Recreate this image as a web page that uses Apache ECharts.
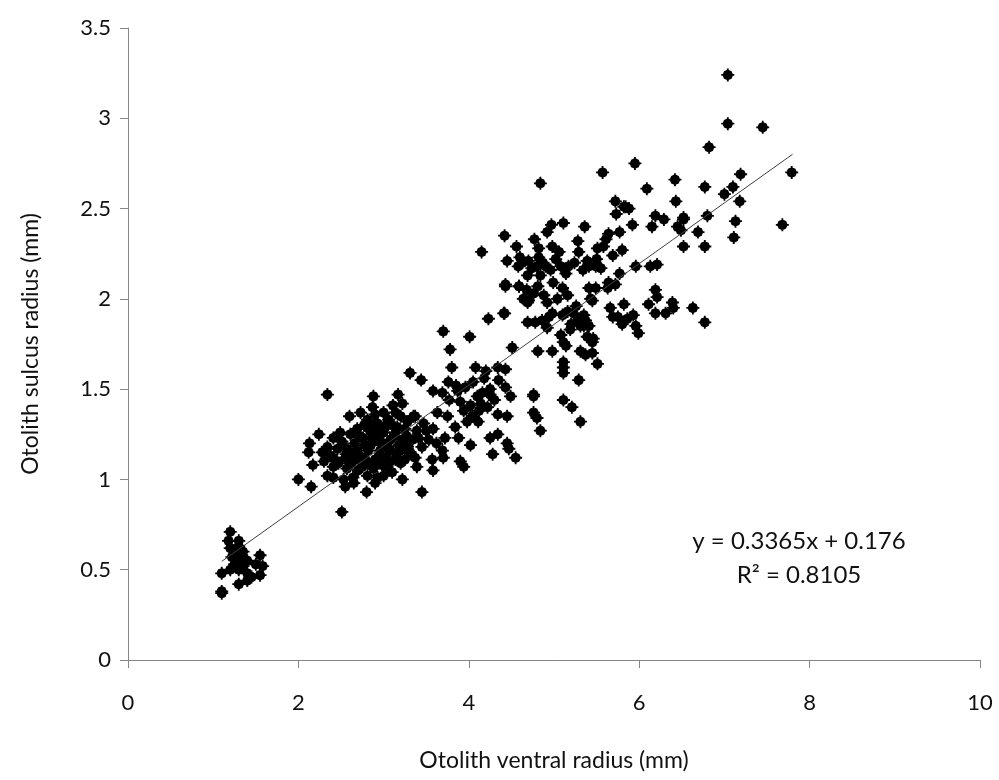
<!DOCTYPE html>
<html>
<head>
<meta charset="utf-8">
<script src="https://cdn.jsdelivr.net/npm/echarts@6/dist/echarts.min.js"></script>
<style>
html,body{margin:0;padding:0;background:#fff;}
#chart{width:999px;height:780px;}
</style>
</head>
<body>
<div id="chart"></div>
<script>
// ---- data ----
var xTicks = [0, 2, 4, 6, 8, 10];
var yTicks = [0, 0.5, 1, 1.5, 2, 2.5, 3, 3.5];
var xTitle = "Otolith ventral radius (mm)";
var yTitle = "Otolith sulcus radius (mm)";
var trendSlope = 0.3365;
var trendIntercept = 0.176;
var trendXRange = [1.1, 7.8];
var equationText = "y = 0.3365x + 0.176";
var r2Text = "R\u00B2 = 0.8105";

var smallFish = [
  [1.1,0.48],[1.1,0.37],[1.1,0.38],[1.2,0.71],[1.2,0.62],[1.25,0.6],[1.3,0.66],[1.22,0.57],
  [1.3,0.55],[1.35,0.52],[1.3,0.5],[1.35,0.57],[1.25,0.53],[1.4,0.55],[1.2,0.5],[1.4,0.48],
  [1.3,0.42],[1.45,0.46],[1.4,0.44],[1.55,0.58],[1.5,0.53],[1.58,0.52],[1.55,0.47],[1.3,0.63],
  [1.35,0.6],[1.28,0.58],[1.18,0.66],[1.33,0.55]
];

var midFish = [
  [2.34,1.47],[2.88,1.46],[3.17,1.47],[3.31,1.59],[2.87,1.40],[3.11,1.41],[3.22,1.42],[2.60,1.35],
  [2.73,1.37],[3.00,1.37],[3.14,1.37],[3.20,1.35],[2.81,1.33],[2.93,1.31],[3.35,1.35],[3.04,1.31],
  [3.28,1.32],[2.69,1.28],[2.84,1.27],[3.00,1.26],[3.14,1.26],[3.25,1.28],[3.39,1.27],[2.24,1.25],
  [2.41,1.23],[2.51,1.21],[2.61,1.25],[2.76,1.23],[2.93,1.22],[3.08,1.22],[3.22,1.22],[3.34,1.22],
  [2.13,1.20],[2.34,1.18],[2.46,1.17],[2.57,1.17],[2.69,1.16],[2.82,1.16],[2.96,1.16],[3.08,1.16],
  [3.20,1.16],[3.31,1.15],[2.12,1.15],[2.28,1.15],[2.41,1.12],[2.55,1.12],[2.67,1.11],[2.78,1.11],
  [2.90,1.11],[3.02,1.12],[3.14,1.11],[3.25,1.11],[3.37,1.12],[2.17,1.08],[2.41,1.07],[2.57,1.06],
  [2.75,1.07],[2.88,1.06],[3.04,1.07],[3.20,1.09],[3.39,1.07],[2.00,1.00],[2.15,0.96],[2.34,1.02],
  [2.41,1.01],[2.53,1.00],[2.64,1.01],[2.55,0.96],[2.81,1.02],[2.93,1.01],[3.10,1.04],[2.80,0.93],
  [2.51,0.82],[3.45,0.93],[2.65,0.98],[2.98,1.2],[2.85,1.19],[3.05,1.18],[2.92,1.25],[2.78,1.19],
  [2.95,1.13],[3.12,1.24],[2.72,1.13],[2.62,1.09],[2.88,1.3],[3.02,1.29],[3.18,1.19],[2.98,1.08],
  [2.7,1.05],[3.28,1.18],[2.47,1.09],[2.9,1.36],[3.06,1.33],[2.83,1.09],[3.16,1.29],[2.56,1.14],
  [2.3,1.1],[2.9,0.98],[3.0,1.02],[3.22,1.0],[2.66,1.2],[2.77,1.3],[3.1,1.3],[2.86,1.23],
  [2.95,1.28],[3.08,1.1],[2.72,1.24],[2.49,1.26],[2.38,1.13],[2.63,1.14],[3.27,1.24],[3.15,1.14]
];

var growingFish = [
  [4.43,2.08],[4.59,2.07],[4.69,1.98],[4.23,1.89],[4.42,1.92],[3.70,1.82],[4.01,1.79],[4.69,1.87],
  [3.78,1.72],[4.51,1.73],[3.44,1.55],[3.80,1.62],[4.08,1.62],[4.20,1.60],[4.34,1.62],[4.43,1.61],
  [3.76,1.54],[3.58,1.49],[3.69,1.48],[3.87,1.49],[3.96,1.51],[4.05,1.54],[4.16,1.48],[4.25,1.50],
  [4.35,1.55],[4.43,1.51],[4.49,1.46],[4.25,1.47],[3.77,1.44],[3.90,1.43],[4.02,1.41],[4.14,1.42],
  [4.22,1.40],[3.63,1.37],[3.75,1.35],[3.94,1.38],[4.04,1.35],[4.11,1.32],[4.34,1.36],[4.45,1.35],
  [3.37,1.35],[3.47,1.31],[3.58,1.28],[3.84,1.29],[3.88,1.23],[4.02,1.19],[4.25,1.23],[4.34,1.25],
  [4.45,1.20],[4.47,1.17],[4.55,1.12],[4.28,1.14],[3.90,1.10],[3.94,1.07],[3.69,1.16],[3.70,1.12],
  [3.57,1.11],[3.58,1.05],[3.31,1.15],[3.41,1.23],[3.53,1.22],[3.72,1.23],[4.76,1.47],[4.76,1.37],
  [4.80,1.34],[4.84,1.27],[3.62,1.2],[3.5,1.27],[4.1,1.46],[3.98,1.32],[3.45,1.18],[4.18,1.56],
  [4.3,1.44],[3.85,1.52],[4.12,1.38]
];

var largeFish = [
  [4.84,2.64],[5.57,2.70],[5.72,2.54],[5.84,2.51],[5.73,2.47],[5.92,2.41],[4.42,2.35],[4.97,2.41],
  [5.11,2.42],[5.36,2.40],[4.92,2.37],[4.77,2.33],[4.56,2.29],[4.15,2.26],[4.82,2.28],[4.98,2.29],
  [5.06,2.26],[5.28,2.32],[5.29,2.26],[5.64,2.36],[5.77,2.37],[5.61,2.33],[5.51,2.28],[5.58,2.29],
  [5.80,2.27],[5.69,2.24],[4.45,2.21],[4.63,2.20],[4.70,2.21],[4.82,2.23],[4.58,2.18],[4.80,2.18],
  [4.90,2.18],[4.96,2.16],[5.08,2.18],[5.17,2.18],[5.39,2.21],[5.41,2.18],[5.49,2.18],[5.55,2.17],
  [4.69,2.13],[4.84,2.13],[5.14,2.14],[5.96,2.18],[5.77,2.14],[4.43,2.07],[4.59,2.07],[4.81,2.07],
  [4.99,2.09],[4.76,2.03],[4.88,2.02],[5.10,2.06],[5.16,2.02],[5.41,2.06],[5.49,2.06],[5.64,2.09],
  [5.72,2.08],[5.63,2.06],[4.64,2.00],[4.70,1.99],[4.92,1.98],[5.43,2.00],[4.41,1.92],[4.78,1.87],
  [4.86,1.88],[4.98,1.92],[5.16,1.93],[5.23,1.92],[5.28,1.88],[5.37,1.88],[5.41,1.85],[5.66,1.95],
  [5.82,1.97],[5.75,1.90],[5.86,1.89],[5.93,1.91],[4.92,1.84],
  [5.95,2.75],[6.42,2.66],[6.77,2.62],[6.09,2.61],[6.43,2.54],[5.82,2.51],[5.88,2.50],[6.19,2.46],
  [6.29,2.44],[6.52,2.44],[6.80,2.46],[6.15,2.40],[6.45,2.40],[6.49,2.38],[6.69,2.37],[6.52,2.29],
  [6.77,2.29],[6.13,2.18],[6.21,2.19],[5.45,1.99],[6.19,2.05],[6.21,2.01],[6.11,1.97],[6.39,1.98],
  [6.40,1.95],[6.63,1.95],[5.69,1.90],[5.80,1.86],[6.19,1.92],[6.31,1.92],[5.96,1.85],[5.99,1.81],
  [6.77,1.87],[5.19,1.83],[5.35,1.85],[5.46,1.78],[5.11,1.76],
  [7.04,3.24],[7.04,2.97],[7.45,2.95],[6.82,2.84],[7.79,2.70],[7.19,2.69],[7.10,2.62],[7.00,2.58],
  [7.18,2.54],[7.13,2.43],[7.68,2.41],[7.11,2.34],[6.52,2.45],
  [5.10,1.91],[5.35,1.91],[5.31,1.85],[5.39,1.79],[5.45,1.76],[5.08,1.80],[5.14,1.74],[5.11,1.65],
  [5.11,1.62],[5.11,1.59],[5.31,1.71],[5.37,1.69],[5.45,1.70],[5.51,1.64],[5.29,1.55],[4.98,1.71],
  [4.81,1.71],[5.11,1.44],[5.21,1.40],[5.31,1.32],[4.76,1.46],
  [4.87,2.2],[5.02,2.22],[4.74,2.17],[5.24,2.2],[4.68,2.05],[5.04,2.0],[5.2,1.86],[4.94,1.9],
  [5.5,2.22],[5.34,2.16],[4.6,2.23],[5.26,1.96]
];

// ---- chart ----
var allPoints = smallFish.concat(midFish, growingFish, largeFish);
var trendData = trendXRange.map(function (x) { return [x, trendSlope * x + trendIntercept]; });

var fontFam = 'Lato, "Open Sans", sans-serif';
var markerPath = 'path://M5,0.9 L7.9,2.1 L9.1,5 L7.9,7.9 L5,9.1 L2.1,7.9 L0.9,5 L2.1,2.1 Z M4.3,0 L5.7,0 L5.7,4.3 L10,4.3 L10,5.7 L5.7,5.7 L5.7,10 L4.3,10 L4.3,5.7 L0,5.7 L0,4.3 L4.3,4.3 Z';

var chart = echarts.init(document.getElementById('chart'), null, {renderer: 'canvas'});
chart.setOption({
  animation: false,
  backgroundColor: '#ffffff',
  grid: {left: 128, right: 19, top: 28, bottom: 120, containLabel: false},
  xAxis: {
    type: 'value', min: xTicks[0], max: xTicks[xTicks.length - 1], interval: 2,
    name: xTitle, nameLocation: 'middle', nameGap: 89,
    nameTextStyle: {fontFamily: fontFam, fontSize: 23, color: '#111111'},
    axisLine: {show: true, lineStyle: {color: '#868686', width: 1}},
    axisTick: {show: true, inside: false, length: 8, lineStyle: {color: '#868686'}},
    axisLabel: {fontFamily: fontFam, fontSize: 22, color: '#111111', margin: 32},
    splitLine: {show: false}
  },
  yAxis: {
    type: 'value', min: yTicks[0], max: yTicks[yTicks.length - 1], interval: 0.5,
    name: yTitle, nameLocation: 'middle', nameGap: 86,
    nameTextStyle: {fontFamily: fontFam, fontSize: 23, color: '#111111'},
    axisLine: {show: true, lineStyle: {color: '#868686', width: 1}},
    axisTick: {show: true, inside: false, length: 8, lineStyle: {color: '#868686'}},
    axisLabel: {fontFamily: fontFam, fontSize: 22, color: '#111111', margin: 17},
    splitLine: {show: false}
  },
  series: [
    {
      type: 'scatter', data: allPoints, symbol: markerPath, symbolSize: 13,
      itemStyle: {color: '#000000', opacity: 1}, z: 2
    },
    {
      type: 'line', data: trendData, symbol: 'none',
      lineStyle: {color: '#404040', width: 1}, z: 3
    }
  ],
  graphic: [
    {type: 'text', x: 799, y: 529, style: {text: equationText, font: '24px ' + fontFam, fill: '#111111', textAlign: 'center'}},
    {type: 'text', x: 799, y: 563, style: {text: r2Text, font: '24px ' + fontFam, fill: '#111111', textAlign: 'center'}}
  ]
});
</script>
</body>
</html>
